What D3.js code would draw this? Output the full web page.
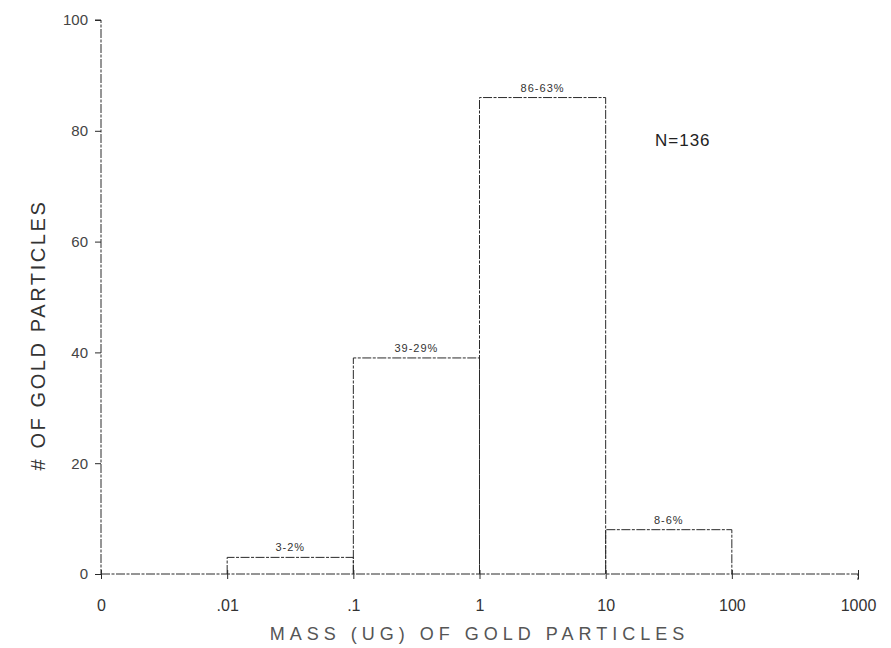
<!DOCTYPE html>
<html>
<head>
<meta charset="utf-8">
<script src="https://cdn.jsdelivr.net/npm/d3@7"></script>
<style>
  html, body { margin: 0; padding: 0; background: #fff; }
  svg text { font-family: "Liberation Sans", Arial, sans-serif; }
</style>
</head>
<body>
<svg id="chart" width="891" height="648"></svg>
<script>
// Bin edges of particle mass (µg) and particle counts per bin
const edgeLabels = ["0", ".01", ".1", "1", "10", "100", "1000"];
const counts = [0, 3, 39, 86, 8, 0];
const binLabels = ["", "3-2%", "39-29%", "86-63%", "8-6%", ""];
const yTicks = [0, 20, 40, 60, 80, 100];
const totalLabel = "N=136";

const svg = d3.select("#chart");
const margin = { left: 101, right: 33, top: 20, bottom: 74 };
const W = 891, H = 648;

const x = d3.scalePoint().domain(edgeLabels).range([margin.left, W - margin.right]);
const y = d3.scaleLinear().domain([0, 100]).range([H - margin.bottom, margin.top]);

const ink = "#2a2a2a";
const dash = "9 1.5 3 1.5";

// y axis: ticks on the left
const yAxis = svg.append("g")
  .attr("transform", `translate(${margin.left},0)`)
  .call(d3.axisLeft(y).tickValues(yTicks).tickSize(6).tickPadding(7).tickFormat(d3.format("d")));
yAxis.select(".domain").attr("stroke", ink).attr("stroke-dasharray", dash).attr("d", `M-6,${y(100)}H0V${y(0)}`);
yAxis.selectAll(".tick line").attr("stroke", ink);
yAxis.selectAll(".tick text").attr("fill", "#444").attr("font-size", 15);

// x axis: baseline with crossing ticks
const xAxis = svg.append("g")
  .attr("transform", `translate(0,${y(0)})`)
  .call(d3.axisBottom(x).tickSize(6).tickPadding(20));
xAxis.select(".domain").attr("stroke", ink).attr("stroke-dasharray", dash)
  .attr("d", `M${x("0")},0H${x("1000")}V6`);
xAxis.selectAll(".tick line").attr("stroke", ink).attr("y1", -4).attr("y2", 5);
xAxis.selectAll(".tick text").attr("fill", "#333").attr("font-size", 16);

// histogram bars, drawn as open outlines standing on the baseline
const bins = counts.map((c, i) => ({ c, x0: edgeLabels[i], x1: edgeLabels[i + 1], label: binLabels[i] }))
  .filter(d => d.c > 0);

svg.append("g").selectAll("path").data(bins).join("path")
  .attr("fill", "none")
  .attr("stroke", ink)
  .attr("stroke-width", 1)
  .attr("stroke-dasharray", dash)
  .attr("d", d => `M${x(d.x0)},${y(0)}V${y(d.c)}H${x(d.x1)}V${y(0)}`);

svg.append("g").selectAll("text").data(bins).join("text")
  .attr("x", d => (x(d.x0) + x(d.x1)) / 2)
  .attr("y", d => y(d.c) - 6)
  .attr("text-anchor", "middle")
  .attr("font-size", 11)
  .attr("letter-spacing", 1)
  .attr("fill", "#333")
  .text(d => d.label);

// N annotation
svg.append("text")
  .attr("x", 655).attr("y", 146)
  .attr("font-size", 17)
  .attr("letter-spacing", 1)
  .attr("fill", "#222")
  .text(totalLabel);

// axis titles
svg.append("text")
  .attr("x", (x("0") + x("1000")) / 2).attr("y", 640)
  .attr("text-anchor", "middle")
  .attr("font-size", 18)
  .attr("letter-spacing", 5)
  .attr("fill", "#555")
  .text("MASS (UG) OF GOLD PARTICLES");

svg.append("text")
  .attr("transform", `translate(45,${(y(0) + y(100)) / 2 + 38}) rotate(-90)`)
  .attr("text-anchor", "middle")
  .attr("font-size", 20)
  .attr("letter-spacing", 2.6)
  .attr("fill", "#333")
  .text("# OF GOLD PARTICLES");
</script>
</body>
</html>
